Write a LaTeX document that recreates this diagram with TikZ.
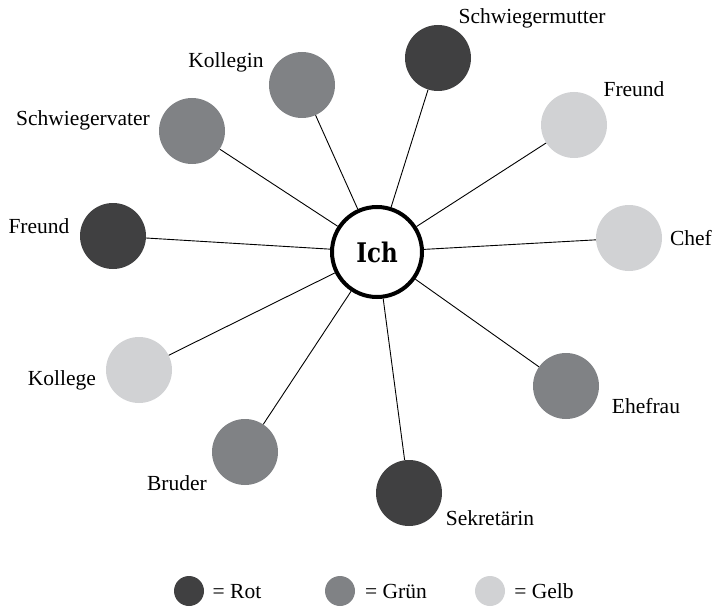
\documentclass[tikz,border=0pt]{standalone}
\usepackage{fontspec}
\setmainfont{Liberation Serif}
\newfontfamily\ichfont{DejaVu Serif}[FakeStretch=0.85]
\usetikzlibrary{positioning}
\definecolor{rot}{HTML}{404041}
\definecolor{gruen}{HTML}{808285}
\definecolor{gelb}{HTML}{D1D2D4}

\begin{document}
\begin{tikzpicture}[x=1pt,y=-1pt,
pers/.style={circle,inner sep=0pt,minimum size=66pt},
rotp/.style={pers,fill=rot},
gruenp/.style={pers,fill=gruen},
gelbp/.style={pers,fill=gelb},
leg/.style={circle,inner sep=0pt,minimum size=30pt},
lbl/.style={anchor=base,inner sep=0pt,font=\fontsize{21.5}{24}\selectfont},
ich/.style={circle,draw,line width=4pt,minimum size=90pt,
  font=\ichfont\bfseries\fontsize{27}{30}\selectfont}]
\useasboundingbox (0,0) rectangle (720,607);
\node[ich] (ich) at (377,252) {Ich};
\node[rotp] (smutter) at (438,58) {};
\node[gelbp] (freundr) at (574,125) {};
\node[gelbp] (chef) at (629,238) {};
\node[gruenp] (ehefrau) at (566,386) {};
\node[rotp] (sekr) at (409,493) {};
\node[gruenp] (bruder) at (245,452) {};
\node[gelbp] (kollege) at (139,370) {};
\node[rotp] (freundl) at (113,236) {};
\node[gruenp] (svater) at (192,131) {};
\node[gruenp] (kollegin) at (302,85) {};
\node[lbl] (l-smutter) at (532,24) {Schwiegermutter};
\node[lbl] (l-freundr) at (634,97) {Freund};
\node[lbl] (l-chef) at (691,245) {Chef};
\node[lbl] (l-ehefrau) at (646,413) {Ehefrau};
\node[lbl] (l-sekr) at (490,525) {Sekretärin};
\node[lbl] (l-bruder) at (177,490) {Bruder};
\node[lbl] (l-kollege) at (62,385) {Kollege};
\node[lbl] (l-freundl) at (39,233) {Freund};
\node[lbl] (l-svater) at (83,125) {Schwiegervater};
\node[lbl] (l-kollegin) at (226,68) {Kollegin};
\path[line width=0.9pt]
(ich) edge (smutter) edge (freundr) edge (chef) edge (ehefrau) edge (sekr)
(ich) edge (bruder) edge (kollege) edge (freundl) edge (svater) edge (kollegin);
\node[leg,fill=rot] (k-rot) at (189,591) {};
\node[leg,fill=gruen] (k-gruen) at (340,591) {};
\node[leg,fill=gelb] (k-gelb) at (490,591) {};
\node[lbl] (t-rot) at (237,598) {= Rot};
\node[lbl] (t-gruen) at (396,598) {= Grün};
\node[lbl] (t-gelb) at (544,598) {= Gelb};
\end{tikzpicture}
\end{document}
